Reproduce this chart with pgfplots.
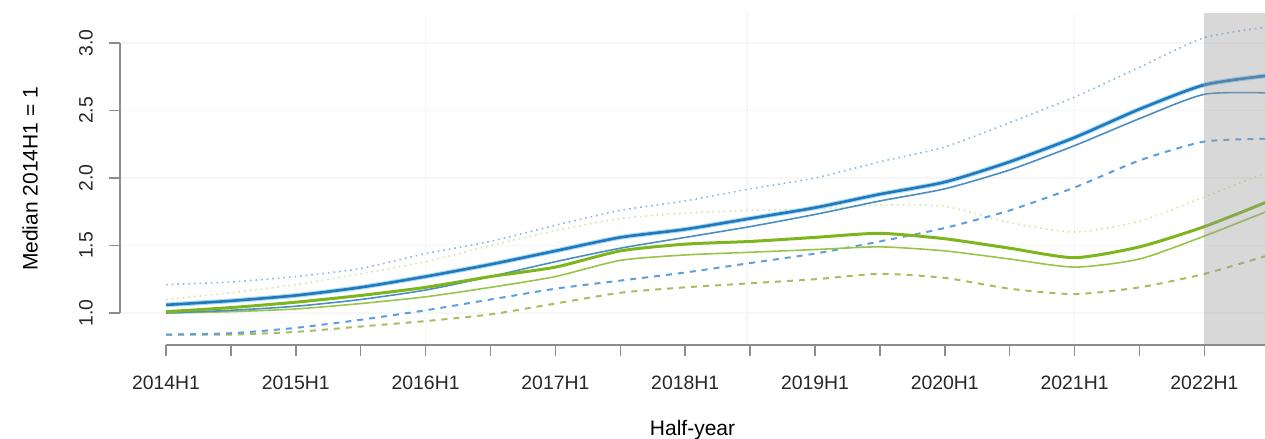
\documentclass[border=0pt]{standalone}
\usepackage{pgfplots}
\pgfplotsset{compat=1.18}
\usepackage{pgfplotstable}
\usepackage{fontspec}
\setmainfont{Liberation Sans}
\definecolor{bthick}{HTML}{2477BB}
\definecolor{bhalo}{HTML}{A5DDF4}
\definecolor{bthin}{HTML}{4B8EC4}
\definecolor{bdot}{HTML}{8DB8DE}
\definecolor{bdash}{HTML}{5E9FD9}
\definecolor{gthick}{HTML}{7DB61C}
\definecolor{gthin}{HTML}{98C44A}
\definecolor{gdot}{HTML}{D4E6A2}
\definecolor{gdash}{HTML}{A9BC5E}
\definecolor{axgray}{HTML}{8C8C8C}
\definecolor{tlab}{HTML}{262626}

\pgfplotstableread{
i bt bn bdot bdash gt gn gdot gdash
0  1.06 1.00 1.21 0.84 1.01 1.00 1.10 0.84
1  1.09 1.02 1.23 0.85 1.04 1.01 1.15 0.84
2  1.13 1.05 1.27 0.89 1.08 1.03 1.21 0.86
3  1.19 1.10 1.33 0.95 1.13 1.07 1.29 0.90
4  1.27 1.17 1.44 1.02 1.19 1.12 1.38 0.94
5  1.36 1.27 1.53 1.10 1.27 1.19 1.50 0.99
6  1.46 1.38 1.65 1.18 1.34 1.27 1.61 1.07
7  1.56 1.48 1.76 1.24 1.46 1.39 1.70 1.15
8  1.62 1.56 1.83 1.30 1.51 1.43 1.74 1.19
9  1.70 1.64 1.92 1.37 1.53 1.45 1.76 1.22
10 1.78 1.73 2.00 1.44 1.56 1.47 1.77 1.25
11 1.88 1.83 2.12 1.53 1.59 1.49 1.80 1.29
12 1.97 1.92 2.23 1.63 1.55 1.46 1.79 1.26
13 2.12 2.06 2.41 1.76 1.48 1.40 1.67 1.18
14 2.30 2.24 2.60 1.93 1.41 1.34 1.60 1.14
15 2.51 2.44 2.82 2.13 1.49 1.40 1.68 1.19
16 2.69 2.62 3.04 2.27 1.64 1.57 1.86 1.29
17 2.76 2.63 3.12 2.29 1.83 1.76 2.05 1.43
}\datatable

\pgfplotstableread{
x y
16 0.763
17.5 0.763
17.5 3.222
16 3.222
}\shade

\begin{document}
\begin{tikzpicture}
\useasboundingbox (-60pt,-47pt) rectangle (572.5pt,172.5pt);
\begin{axis}[
  at={(0,0)}, anchor=south west,
  x=32.45pt, y=67.5pt,
  xmin=-0.709, xmax=16.934, ymin=0.763, ymax=3.222,
  clip mode=individual,
  axis line style={draw=none},
  tick pos=left,
  tick align=outside,
  major tick length=5.5pt,
  tick style={draw=axgray, line width=0.75pt},
  xtick={0,...,16},
  xticklabels={2014H1,,2015H1,,2016H1,,2017H1,,2018H1,,2019H1,,2020H1,,2021H1,,2022H1},
  ytick={1,1.5,2,2.5,3},
  yticklabels={1.0,1.5,2.0,2.5,3.0},
  xticklabel style={font=\fontsize{9.7}{11}\selectfont, text=tlab, anchor=north, yshift=-6.5pt},
  yticklabel style={font=\fontsize{9.7}{11}\selectfont, text=tlab, rotate=90, anchor=south},
  yticklabel shift=4.5pt,
  ymajorgrids=true,
  major grid style={draw=gray!7, line width=0.8pt},
  extra x ticks={4,8.95,14},
  extra x tick labels={},
  extra x tick style={xmajorgrids=true, major tick length=0pt},
  xlabel={Half-year},
  ylabel={Median 2014H1 = 1},
  xlabel style={font=\fontsize{10.5}{12}\selectfont, at={(axis description cs:0.5,-0.274)}, anchor=base},
  ylabel style={font=\fontsize{10.5}{12}\selectfont, at={(axis description cs:-0.0786,0.5)}, anchor=center},
]
\addplot[gdot, line width=0.8pt, dotted, smooth, tension=0.4] table[x=i,y=gdot]{\datatable};
\addplot[bdot, line width=0.8pt, dotted, smooth, tension=0.4] table[x=i,y=bdot]{\datatable};
\addplot[gdash, line width=1pt, dash pattern=on 3pt off 3pt, smooth, tension=0.4] table[x=i,y=gdash]{\datatable};
\addplot[bdash, line width=1pt, dash pattern=on 3pt off 3pt, smooth, tension=0.4] table[x=i,y=bdash]{\datatable};
\addplot[gthin, line width=0.8pt, smooth, tension=0.4] table[x=i,y=gn]{\datatable};
\addplot[bthin, line width=0.8pt, smooth, tension=0.4] table[x=i,y=bn]{\datatable};
\addplot[gthick, line width=1.5pt, smooth, tension=0.4] table[x=i,y=gt]{\datatable};
\addplot[bhalo, line width=2.4pt, smooth, tension=0.4] table[x=i,y=bt]{\datatable};
\addplot[bthick, line width=1.3pt, smooth, tension=0.4] table[x=i,y=bt]{\datatable};
\addplot[draw=none, fill=black!40, fill opacity=0.38] table[x=x,y=y]{\shade} -- cycle;
\draw[axgray, line width=1pt] (axis cs:0,0.763) -- (axis cs:16.934,0.763);
\draw[axgray, line width=1pt] (axis cs:-0.709,1) -- (axis cs:-0.709,3);
\end{axis}
\end{tikzpicture}
\end{document}
